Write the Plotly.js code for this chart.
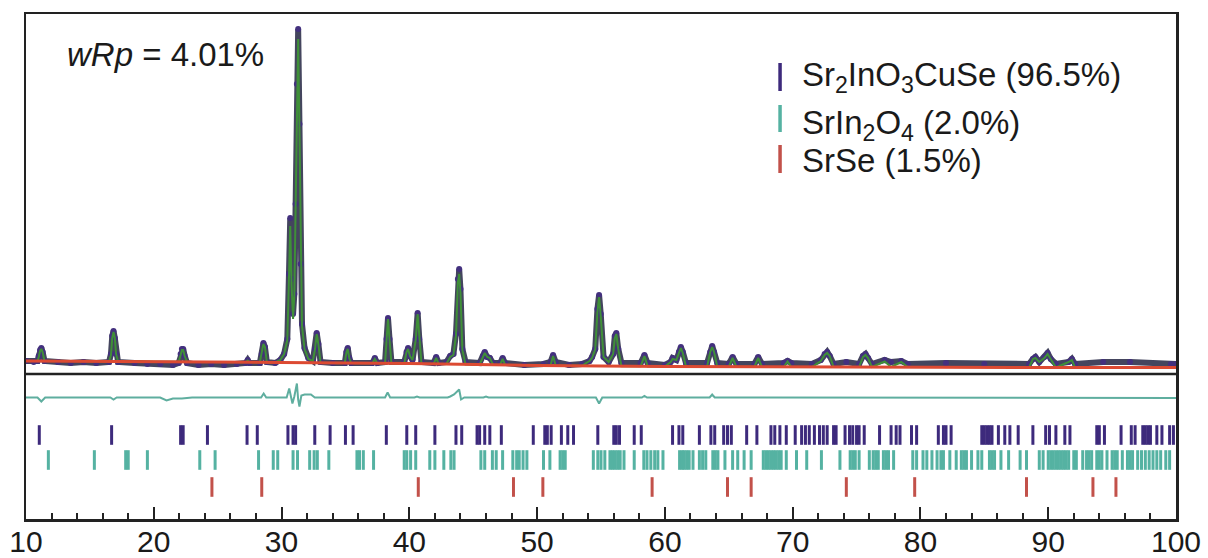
<!DOCTYPE html>
<html><head><meta charset="utf-8">
<script src="https://cdn.plot.ly/plotly-3.0.1.min.js"></script>
<style>html,body{margin:0;padding:0;background:#fff;}#chart{width:1208px;height:558px;}</style>
</head><body><div id="chart"></div>
<script>
const twoTheta = [10.0,10.6,10.9,11.0,11.1,11.2,11.3,11.45,12.5,13.5,14.5,15.5,16.5,16.65,16.75,16.85,16.95,17.05,17.2,18.5,19.5,20.5,21.5,21.95,22.1,22.2,22.3,22.42,22.6,23.5,24.5,25.5,26.5,27.2,27.35,27.5,28.3,28.45,28.58,28.7,28.85,29.5,29.9,30.2,30.45,30.58,30.68,30.78,30.9,31.0,31.1,31.2,31.3,31.4,31.5,31.6,31.8,32.1,32.45,32.62,32.75,32.88,33.05,34.0,34.95,35.08,35.18,35.3,35.45,37.1,37.3,37.5,38.1,38.22,38.33,38.45,38.6,39.6,39.78,39.9,40.05,40.25,40.5,40.65,40.78,40.95,41.9,42.1,42.3,42.9,43.2,43.45,43.65,43.8,43.9,44.0,44.15,44.4,45.5,45.75,45.9,46.1,46.3,46.55,47.1,47.3,47.5,49.0,50.5,51.05,51.25,51.45,52.5,53.5,54.1,54.3,54.55,54.72,54.85,54.98,55.2,55.6,55.95,56.08,56.2,56.35,56.6,58.1,58.4,58.65,60.0,60.45,60.6,60.9,61.1,61.25,61.4,61.65,63.3,63.55,63.7,63.85,64.1,65.0,65.3,65.6,67.0,67.3,67.6,69.3,69.6,69.9,71.5,72.2,72.5,72.7,72.9,73.2,74.2,75.2,75.5,75.7,75.9,76.2,77.2,77.7,78.5,79.0,82.0,85.0,88.5,88.8,89.0,89.3,89.7,89.95,90.2,90.6,91.6,91.85,92.1,94.3,96.4,99.6,100.0];
const observed = [13,12,13,18,24,26,22,13,12,11,12,11,12,20,38,43,36,20,12,11,10,10,9,11,20,25,25,18,11,9,10,9,10,11,14,11,11,20,31,27,12,11,14,20,35,100,156,95,60,80,170,290,345,250,110,50,26,16,13,25,41,30,12,11,11,22,26,16,11,11,16,11,12,35,56,35,12,12,22,26,18,14,35,61,35,12,11,17,11,12,18,20,40,95,105,85,25,12,11,18,22,17,16,11,11,16,11,9,10,12,19,12,9,10,13,17,25,65,79,60,17,12,20,38,41,25,11,11,19,11,9,12,16,14,22,27,22,11,11,22,28,22,11,10,17,10,10,17,10,11,13,11,10,14,20,22,18,10,12,10,18,20,16,10,14,12,13,10,11,10,10,15,17,12,17,21,15,10,12,15,10,12,12,10,10];
const calculated = [13,12.9,12.9,17,23,25,22,12.9,12.9,12.8,12.8,12.7,12.7,19,36,42,36,20,12.6,12.6,12.5,12.4,12.3,12.3,19,24,24,18,12.2,12.2,12.0,12.0,11.9,11.8,13.5,11.7,11.7,20,30,27,11.6,11.6,14,20,34,95,148,90,55,80,165,280,335,245,110,48,25,15,13,25,40,30,11.2,11.1,11.0,22,25,16,11.0,10.8,15,10.8,10.7,34,55,34,10.6,10.6,22,25,18,14,34,60,34,10.3,10.1,16,10.0,10.3,17,19,38,92,100,82,24,9.6,9.4,18,21,17,16,9.2,9.1,15,9.0,8.7,8.5,8.4,18,8.4,8.3,8.2,13,16,25,62,77,58,17,12,20,36,40,25,7.8,7.7,18,7.6,7.5,12,15,14,21,26,21,7.4,7.3,22,27,22,7.3,7.3,16,7.2,7.2,16,7.1,7.0,12.5,7.0,7.0,13,19,21,18,7.0,7.0,7.0,17,19,16,7.0,12.5,7.0,12,7.0,6.9,6.8,6.6,15,16,12,16,20,15,6.5,12,14,6.5,6.5,6.5,6.5,6.5];
const bkgTheta = [10,20,30,40,50,60,70,80,90,100];
const background = [13,12.5,11.5,10.5,8.5,7.5,7,7,6.5,6.5];
// ---- difference curve (obs - calc) ----
const diffTheta = [10,10.9,11.2,11.5,16.6,16.85,17.1,20.5,21.0,21.5,22.2,23,28.4,28.6,28.8,30.4,30.6,30.7,30.85,31.0,31.2,31.3,31.4,31.55,31.8,32.3,32.6,36,38.1,38.3,38.5,40.4,40.6,40.8,43.0,43.2,43.5,43.9,44.05,44.3,45.8,46,46.2,54.6,54.85,55.1,58.2,58.4,58.6,63.5,63.7,63.9,100];
const difference = [0,0,-4,0,0,-2,0,0,-3,-1,-1,0,0,4,0,0,9,2,-6,1,14,-2,-9,2,3,3,0,0,0,5,0,0,1,0,0,1,3,8,-2,0,0,1,0,0,-6,0,0,1.5,0,0,3,0,-0.5];
// ---- reflection positions ----
const hklSr2InO3CuSe = [11.04,16.7,22.1,22.3,24.2,27.3,28.1,30.5,30.9,31.1,32.6,33.8,35.0,35.6,38.2,39.8,40.5,42.0,43.65,44.1,45.3,45.5,45.9,46.3,47.2,49.7,50.6,50.8,51.1,51.9,52.4,52.85,54.75,56.0,56.2,56.45,57.6,58.15,60.6,61.1,61.4,62.7,63.6,63.9,64.6,64.9,65.2,66.4,67.2,68.3,68.6,69.0,69.5,70.2,70.7,71.0,71.3,71.7,72.1,72.4,72.7,73.2,73.4,74.1,74.45,74.7,75.0,75.2,75.6,76.8,77.7,78.1,78.4,79.3,79.7,81.4,81.8,82.0,82.4,84.8,85.0,85.2,85.4,85.6,86.1,86.6,87.0,87.65,88.8,89.8,90.1,90.6,91.3,91.7,93.8,94.0,94.4,95.7,96.5,96.8,97.4,97.6,97.8,98.0,98.5,98.9,99.5,99.8];
const hklSrIn2O4 = [11.75,15.35,17.8,18.0,19.5,23.6,24.8,28.2,29.35,29.7,30.9,31.25,32.2,32.55,32.8,33.7,35.9,36.1,36.4,37.2,39.6,39.8,40.1,40.5,41.6,42.0,42.7,43.25,43.5,45.6,45.9,46.5,46.8,47.3,48.1,48.4,48.6,48.9,49.2,50.5,51.0,51.8,52.0,52.2,54.4,54.75,55.0,55.3,55.7,55.9,56.1,56.3,56.5,56.8,57.6,58.35,58.6,58.9,59.2,59.45,59.85,61.15,61.35,61.5,61.7,61.9,62.2,62.7,62.95,63.2,63.75,63.95,64.15,64.7,65.3,65.7,66.2,66.75,67.7,67.9,68.1,68.3,68.5,68.7,68.9,69.1,69.5,70.3,71.1,72.25,73.7,74.5,74.7,74.9,75.2,76.0,76.3,76.5,76.7,77.1,77.3,77.5,77.9,79.4,79.7,80.2,80.5,80.9,81.3,81.6,81.8,82.3,82.8,83.2,83.4,83.6,84.0,84.5,84.8,85.4,85.6,85.8,86.3,86.9,87.8,88.3,89.3,89.6,90.0,90.2,90.4,90.6,90.8,91.0,91.2,91.4,91.6,92.0,92.2,92.7,93.0,93.2,93.4,93.8,94.0,94.2,94.6,95.0,95.2,95.4,95.8,96.2,96.4,96.6,97.0,97.3,97.6,97.9,98.2,98.5,98.8,99.2,99.5];
const hklSrSe = [24.55,28.45,40.7,48.15,50.45,59.0,64.9,66.75,74.2,79.55,88.3,93.5,95.3];
const tickValues = [10,20,30,40,50,60,70,80,90,100];
const tickLabels = ["10","20","30","40","50","60","70","80","90","100"];
const phaseLabels = ["Sr<sub>2</sub>InO<sub>3</sub>CuSe (96.5%)","SrIn<sub>2</sub>O<sub>4</sub> (2.0%)","SrSe (1.5%)"];
const fitLabel = "<i>wRp</i> = 4.01%";

// ---- styling / placement ----
const DIFF_OFFSET = -23.5;
const ROW_Y = [-61, -86, -113];
const PHASE_COLORS = ['#3d2a7c', '#55b2a2', '#c2514a'];
const FONT = 'Liberation Sans, Arial, Helvetica, sans-serif';

function tickRow(xs, y, color) {
  return {x: xs, y: xs.map(() => y), type: 'scatter', mode: 'markers',
    marker: {symbol: 'line-ns', size: 14, color: color, line: {color: color, width: 3}},
    hoverinfo: 'skip', cliponaxis: false};
}

const traces = [
  {x: twoTheta, y: observed, type: 'scatter', mode: 'lines+markers',
   line: {color: '#44455e', width: 6}, marker: {color: '#43307e', size: 6}},
  {x: twoTheta, y: calculated, type: 'scatter', mode: 'lines',
   line: {color: '#3f8f38', width: 2}},
  {x: bkgTheta, y: background, type: 'scatter', mode: 'lines',
   line: {color: '#dc4a32', width: 3}},
  {x: diffTheta, y: difference.map(d => d + DIFF_OFFSET), type: 'scatter', mode: 'lines',
   line: {color: '#5fae9f', width: 2}},
  tickRow(hklSr2InO3CuSe, ROW_Y[0], PHASE_COLORS[0]),
  tickRow(hklSrIn2O4, ROW_Y[1], PHASE_COLORS[1]),
  tickRow(hklSrSe, ROW_Y[2], PHASE_COLORS[2])
];

const legendY = [[0.8475, 0.903], [0.7663, 0.8198], [0.6851, 0.7406]];
const legendTextY = [0.876, 0.780, 0.709];
const shapes = [
  {type: 'line', xref: 'paper', yref: 'y', x0: 0, x1: 1, y0: 0, y1: 0,
   line: {color: '#222', width: 2.5}}
];
const annotations = [
  {xref: 'paper', yref: 'paper', x: 0.034, y: 0.919, xanchor: 'left', yanchor: 'middle',
   text: fitLabel, showarrow: false, font: {family: FONT, size: 33, color: '#1a1a1a'}}
];
phaseLabels.forEach((t, i) => {
  shapes.push({type: 'line', xref: 'paper', yref: 'paper', x0: 0.6557, x1: 0.6557,
    y0: legendY[i][0], y1: legendY[i][1], line: {color: PHASE_COLORS[i], width: 3.5}});
  annotations.push({xref: 'paper', yref: 'paper', x: 0.673, y: legendTextY[i],
    xanchor: 'left', yanchor: 'middle', text: t, showarrow: false,
    font: {family: FONT, size: 33, color: '#1a1a1a'}});
});

const layout = {
  width: 1208, height: 558,
  margin: {l: 26, r: 32, t: 14, b: 39},
  paper_bgcolor: '#fff', plot_bgcolor: '#fff',
  showlegend: false, hovermode: false,
  xaxis: {range: [10, 100], showline: true, mirror: true, linecolor: '#222', linewidth: 2.5,
    ticks: 'inside', ticklen: 12, tickwidth: 2, tickcolor: '#222',
    tickvals: tickValues, ticktext: tickLabels, ticklabelstandoff: -6,
    tickfont: {family: FONT, size: 30, color: '#1a1a1a'},
    showgrid: false, zeroline: false, automargin: false,
    minor: {tick0: 10, dtick: 2, ticks: 'inside', ticklen: 6, tickwidth: 2, tickcolor: '#222', showgrid: false}},
  yaxis: {range: [-145, 360], showline: true, mirror: true, linecolor: '#222', linewidth: 2.5,
    ticks: '', showticklabels: false, showgrid: false, zeroline: false, automargin: false},
  shapes: shapes, annotations: annotations
};

Plotly.newPlot('chart', traces, layout, {displayModeBar: false, staticPlot: true});
</script></body></html>
